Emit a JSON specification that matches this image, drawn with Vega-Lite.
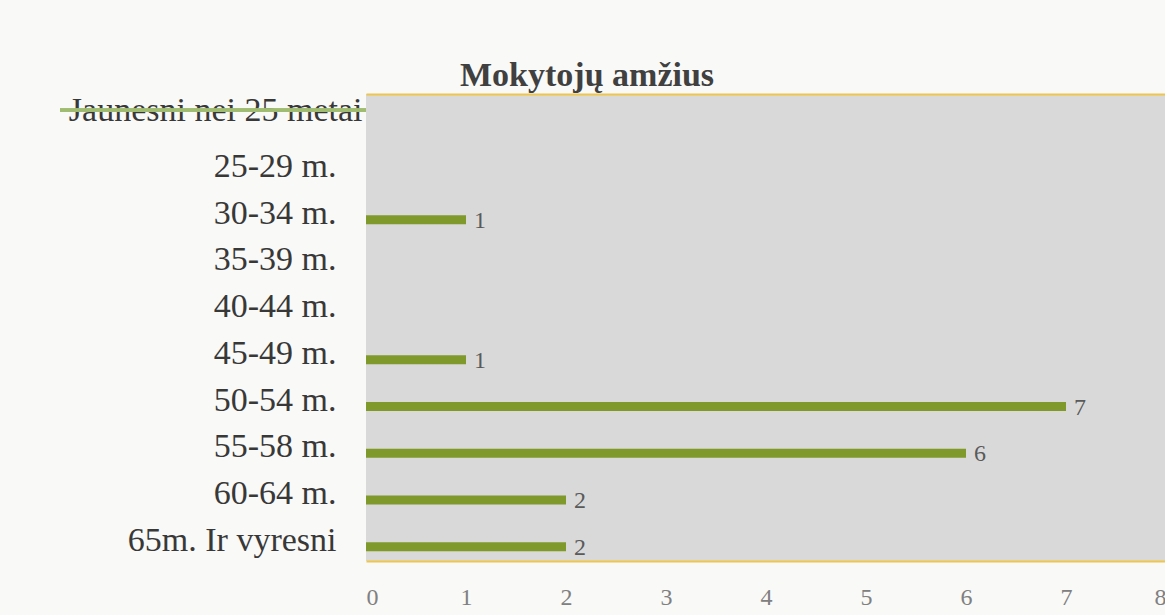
{
  "$schema": "https://vega.github.io/schema/vega-lite/v6.json",
  "width": 800,
  "height": 467,
  "autosize": {"type": "none"},
  "padding": {"left": 366, "top": 94, "right": 0, "bottom": 54},
  "background": "#f9f9f7",
  "title": {"text": "Mokytojų amžius", "anchor": "start", "frame": "group", "dx": 94, "offset": 1, "font": "Liberation Serif", "fontSize": 34, "fontWeight": "bold", "color": "#404040"},
  "config": {"view": {"fill": "#d9d9d9", "stroke": null}},
  "data": {"values": [
    {"age": "Jaunesni nei 25 metai", "count": 0},
    {"age": "25-29 m.", "count": 0},
    {"age": "30-34 m.", "count": 1},
    {"age": "35-39 m.", "count": 0},
    {"age": "40-44 m.", "count": 0},
    {"age": "45-49 m.", "count": 1},
    {"age": "50-54 m.", "count": 7},
    {"age": "55-58 m.", "count": 6},
    {"age": "60-64 m.", "count": 2},
    {"age": "65m. Ir vyresni", "count": 2}
  ]},
  "encoding": {
    "y": {"field": "age", "type": "nominal", "sort": null,
      "scale": {"paddingInner": 0, "paddingOuter": 0},
      "axis": {"title": null, "ticks": false, "domain": false,
        "labelFont": "Liberation Serif", "labelFontSize": 34, "labelColor": "#383838", "labelLimit": 0,
        "labelPadding": {"condition": {"test": "datum.value == 'Jaunesni nei 25 metai'", "value": 4}, "value": 30},
        "labelOffset": {"condition": {"test": "datum.value == 'Jaunesni nei 25 metai'", "value": -6}, "value": 3}}}
  },
  "layer": [
    {"mark": {"type": "bar", "color": "#7f992b", "size": 9, "yOffset": 9},
     "encoding": {"x": {"field": "count", "type": "quantitative",
       "scale": {"domain": [0, 8], "nice": false},
       "axis": {"orient": "bottom", "title": null, "ticks": false, "grid": false, "values": [0,1,2,3,4,5,6,7,8],
         "domainColor": "#f0c64a", "domainWidth": 2, "labelPadding": 24,
         "labelFont": "Liberation Serif", "labelFontSize": 24, "labelColor": "#808080"}}}},
    {"transform": [{"filter": "datum.count > 0"}],
     "mark": {"type": "text", "align": "left", "baseline": "middle", "dx": 8, "yOffset": 10, "font": "Liberation Serif", "fontSize": 24, "color": "#5a5a5a"},
     "encoding": {"x": {"field": "count", "type": "quantitative", "scale": {"domain": [0, 8], "nice": false}, "axis": null}, "text": {"field": "count"}}},
    {"mark": {"type": "rule", "color": "#9fbc72", "strokeWidth": 3, "clip": false, "yOffset": -7},
     "encoding": {
       "x": {"datum": -3.06, "type": "quantitative", "scale": {"domain": [0, 8], "nice": false},
         "axis": {"orient": "top", "title": null, "labels": false, "ticks": false, "grid": false, "domainColor": "#f0c64a", "domainWidth": 2}},
       "x2": {"datum": 0},
       "y": {"datum": "Jaunesni nei 25 metai"}}}
  ],
  "resolve": {"axis": {"x": "independent"}}
}
